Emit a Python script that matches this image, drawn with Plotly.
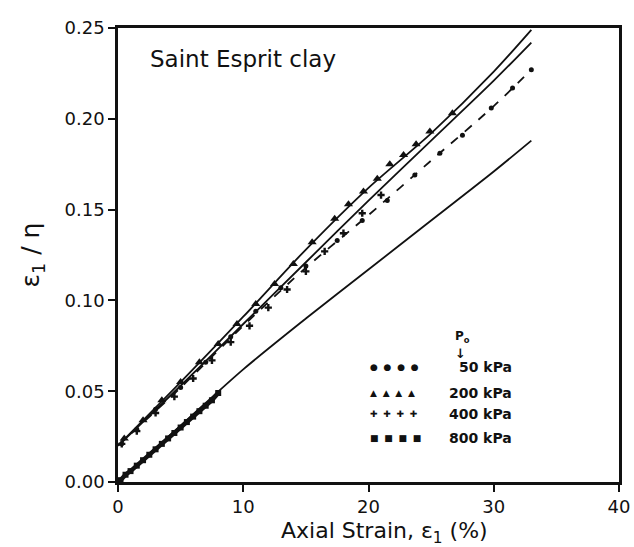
import plotly.graph_objects as go

# Fitted curves (axial strain %, eps1/eta)
x_fit = [0, 5, 10, 15, 20, 25, 30, 33]
fit_a = [0.020, 0.055, 0.091, 0.128, 0.162, 0.192, 0.226, 0.249]
fit_b = [0.020, 0.053, 0.087, 0.121, 0.155, 0.188, 0.221, 0.242]
fit_c = [0.020, 0.052, 0.086, 0.118, 0.147, 0.177, 0.207, 0.227]
fit_d = [0.000, 0.031, 0.062, 0.090, 0.117, 0.144, 0.171, 0.188]

# Test data
x50 = [0.3, 1.5, 3, 5, 7, 9, 11, 13, 15, 17.5, 19.5, 21.5, 23.7, 25.7, 27.5, 29.8, 31.5, 33]
y50 = [0.021, 0.029, 0.040, 0.052, 0.066, 0.080, 0.094, 0.107, 0.119, 0.133, 0.144, 0.155, 0.169, 0.181, 0.191, 0.206, 0.217, 0.227]

x200 = [0.5, 2, 3.5, 5, 6.5, 8, 9.5, 11, 12.5, 14, 15.5, 17.3, 18.4, 19.6, 20.7, 21.7, 22.8, 23.8, 24.9, 26.7]
y200 = [0.024, 0.034, 0.045, 0.055, 0.066, 0.076, 0.087, 0.098, 0.109, 0.120, 0.132, 0.145, 0.153, 0.160, 0.167, 0.175, 0.180, 0.186, 0.193, 0.203]

x400 = [0.3, 1.5, 3, 4.5, 6, 7.5, 9, 10.5, 12, 13.5, 15, 16.5, 18, 19.5, 21]
y400 = [0.021, 0.028, 0.038, 0.047, 0.057, 0.067, 0.077, 0.086, 0.096, 0.106, 0.116, 0.127, 0.137, 0.148, 0.158]

x800 = [0.2, 0.6, 1, 1.5, 2, 2.5, 3, 3.5, 4, 4.5, 5, 5.5, 6, 6.5, 7, 7.5, 8]
y800 = [0.001, 0.004, 0.006, 0.009, 0.012, 0.015, 0.018, 0.021, 0.024, 0.027, 0.030, 0.033, 0.036, 0.039, 0.042, 0.045, 0.049]

x_ticks = [0, 10, 20, 30, 40]
y_ticks = [0.00, 0.05, 0.10, 0.15, 0.20, 0.25]
y_tick_text = ["0.00", "0.05", "0.10", "0.15", "0.20", "0.25"]

legend_rows = [
    ("●  ●  ●  ●", "50 kPa"),
    ("▲  ▲  ▲  ▲", "200 kPa"),
    ("✚  ✚  ✚  ✚", "400 kPa"),
    ("■  ■  ■  ■", "800 kPa"),
]

INK = "#111111"
FONT = "DejaVu Sans"

fig = go.Figure()

for ys, dash in [(fit_a, "solid"), (fit_b, "solid"), (fit_c, "dash"), (fit_d, "solid")]:
    fig.add_trace(go.Scatter(x=x_fit, y=ys, mode="lines", line=dict(color=INK, width=1.8, dash=dash, shape="spline", smoothing=0.8),
                             showlegend=False, hoverinfo="skip"))

fig.add_trace(go.Scatter(x=x50, y=y50, mode="markers", marker=dict(symbol="circle", size=5, color=INK), showlegend=False))
fig.add_trace(go.Scatter(x=x200, y=y200, mode="markers", marker=dict(symbol="triangle-up", size=8, color=INK), showlegend=False))
fig.add_trace(go.Scatter(x=x400, y=y400, mode="markers", marker=dict(symbol="cross", size=6, color=INK), showlegend=False))
fig.add_trace(go.Scatter(x=x800, y=y800, mode="markers", marker=dict(symbol="square", size=6, color=INK), showlegend=False))
fig.add_trace(go.Scatter(x=x800, y=y800, mode="lines", line=dict(color=INK, width=4.5), showlegend=False, hoverinfo="skip"))

annotations = [
    dict(x=0.06, y=0.965, xref="paper", yref="paper", text="Saint Esprit clay", showarrow=False,
         xanchor="left", yanchor="top", font=dict(family=FONT, size=23, color=INK)),
    dict(x=0.531, y=-0.112, xref="paper", yref="paper", text="Axial Strain, ε<sub>1</sub> (%)", showarrow=False,
         xanchor="center", yanchor="middle", font=dict(family=FONT, size=22, color=INK)),
    dict(x=0.687, y=0.319, xref="paper", yref="paper", text="<b>P<sub>o</sub></b>", showarrow=False,
         xanchor="center", yanchor="middle", font=dict(family=FONT, size=12, color=INK)),
    dict(x=0.684, y=0.282, xref="paper", yref="paper", text="<b>↓</b>", showarrow=False,
         xanchor="center", yanchor="middle", font=dict(family=FONT, size=13, color=INK)),
]
row_y = [0.253, 0.196, 0.150, 0.097]
for (sym, lab), yy in zip(legend_rows, row_y):
    annotations.append(dict(x=0.499, y=yy, xref="paper", yref="paper", text=sym, showarrow=False,
                            xanchor="left", yanchor="middle", font=dict(family=FONT, size=9, color=INK)))
    annotations.append(dict(x=0.79, y=yy, xref="paper", yref="paper", text="<b>" + lab + "</b>", showarrow=False,
                            xanchor="right", yanchor="middle", font=dict(family=FONT, size=14, color=INK)))

fig.update_layout(
    width=634, height=547,
    margin=dict(l=118, r=15, t=28, b=65),
    paper_bgcolor="white", plot_bgcolor="white",
    font=dict(family=FONT, size=17, color=INK),
    annotations=annotations,
    xaxis=dict(range=[0, 40], tickvals=x_ticks, ticks="outside", ticklen=7, tickwidth=2, tickcolor=INK,
               showline=True, linewidth=2.5, linecolor=INK, mirror=True, showgrid=False, zeroline=False,
               automargin=False, tickfont=dict(size=18)),
    yaxis=dict(range=[0, 0.25], tickvals=y_ticks, ticktext=y_tick_text, ticks="outside", ticklen=7, tickwidth=2,
               tickcolor=INK, showline=True, linewidth=2.5, linecolor=INK, mirror=True, showgrid=False,
               zeroline=False, automargin=False,
               title=dict(text="ε<sub>1</sub> / η", font=dict(size=25), standoff=18),
               tickfont=dict(size=18)),
)

fig.write_html("out.html")
